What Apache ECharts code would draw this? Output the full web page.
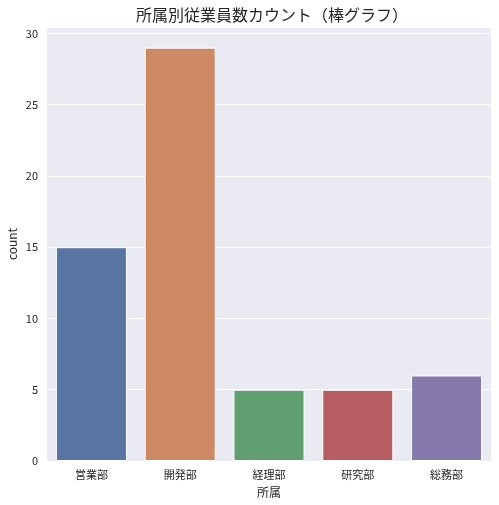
<!DOCTYPE html>
<html><head><meta charset="utf-8">
<script src="https://cdn.jsdelivr.net/npm/echarts@6/dist/echarts.min.js"></script>
<style>html,body{margin:0;padding:0;background:#fff}#c{width:499px;height:505px}</style>
</head><body><div id="c"></div>
<script>
const categories = ['営業部','開発部','経理部','研究部','総務部'];
const counts = [15, 29, 5, 5, 6];
const colors = ['#5875A4','#CC8963','#5F9E6E','#B55D60','#857AAB'];
const yTicks = [0,5,10,15,20,25,30];
const FONT = '"Noto Sans CJK JP", "DejaVu Sans", sans-serif';
const chart = echarts.init(document.getElementById('c'), null, {renderer:'canvas'});
chart.setOption({
  animation:false,
  backgroundColor:'#fff',
  title:{text:'所属別従業員数カウント（棒グラフ）', left:267, top:2, textAlign:'center',
    textStyle:{fontFamily:FONT, fontSize:16, fontWeight:'normal', color:'#262626'}},
  grid:{left:47, right:8, top:27, bottom:44, backgroundColor:'#EAEAF2', show:true, borderWidth:0,
    containLabel:false, outerBoundsMode:'none'},
  xAxis:{type:'category', data:categories, name:'所属', nameLocation:'middle', nameGap:25,
    nameTextStyle:{fontFamily:FONT, fontSize:12, color:'#262626'},
    axisLine:{show:false}, axisTick:{show:false},
    axisLabel:{fontFamily:FONT, fontSize:11, color:'#262626', margin:8},
    splitLine:{show:false}},
  yAxis:{type:'value', min:0, max:30.45, interval:5, name:'count', nameLocation:'middle', nameGap:29,
    nameMoveOverlap:false,
    nameTextStyle:{fontFamily:FONT, fontSize:12, color:'#262626'},
    axisLine:{show:false}, axisTick:{show:false},
    axisLabel:{fontFamily:FONT, fontSize:11, color:'#262626', margin:9,
      formatter:v=> yTicks.includes(v)?String(v):''},
    splitLine:{show:true, lineStyle:{color:'#ffffff', width:1}}},
  series:[{type:'bar', barWidth:'80%',
    data:counts.map((v,i)=>({value:v, itemStyle:{color:colors[i]}})),
    itemStyle:{borderColor:'#ffffff', borderWidth:1}}]
});
</script></body></html>
